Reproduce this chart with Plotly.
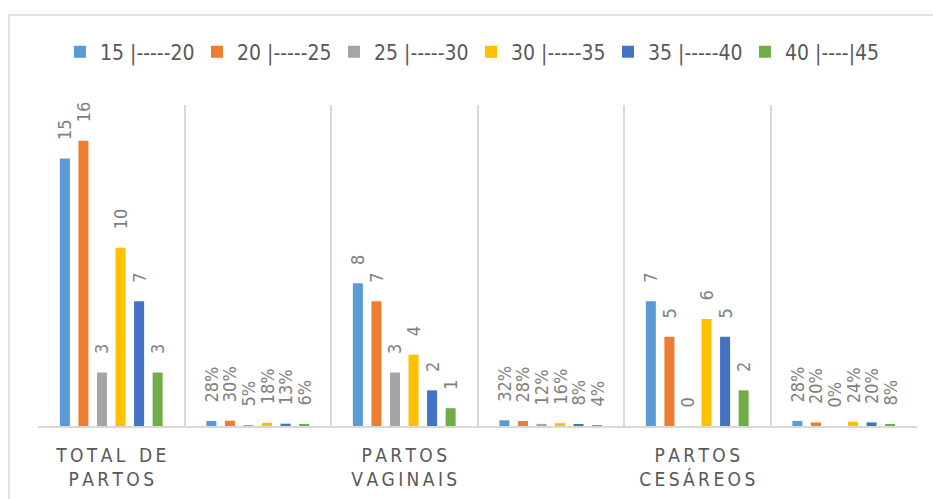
import plotly.graph_objects as go

categories = ["TOTAL DE PARTOS", "TOTAL DE PARTOS (%)",
              "PARTOS VAGINAIS", "PARTOS VAGINAIS (%)",
              "PARTOS CESÁREOS", "PARTOS CESÁREOS (%)"]
tick_labels = ["TOTAL DE<br>PARTOS", "", "PARTOS<br>VAGINAIS", "", "PARTOS<br>CESÁREOS", ""]
is_percent = [False, True, False, True, False, True]

series_names = ["15 |-----20", "20 |-----25", "25 |-----30",
                "30 |-----35", "35 |-----40", "40 |----|45"]
s15_20 = [15, 0.28, 8, 0.32, 7, 0.28]
s20_25 = [16, 0.30, 7, 0.28, 5, 0.20]
s25_30 = [3, 0.05, 3, 0.12, 0, 0.00]
s30_35 = [10, 0.18, 4, 0.16, 6, 0.24]
s35_40 = [7, 0.13, 2, 0.08, 5, 0.20]
s40_45 = [3, 0.06, 1, 0.04, 2, 0.08]
series_values = [s15_20, s20_25, s25_30, s30_35, s35_40, s40_45]
colors = ["#5B9BD5", "#ED7D31", "#A5A5A5", "#FFC000", "#4472C4", "#70AD47"]

FONT = "Liberation Sans Narrow, DejaVu Sans Condensed, Roboto Condensed, Roboto, sans-serif"


def spaced(label):
    lines = label.split("<br>")
    out = []
    for ln in lines:
        out.append("\u2009".join(ch if ch != " " else "\u2009\u2009" for ch in ln))
    return "<br>".join(out)


def fmt(v, pct):
    return f"{round(v * 100)}%" if pct else f"{v:g}"


fig = go.Figure()
for name, vals, col in zip(series_names, series_values, colors):
    fig.add_trace(go.Bar(
        x=categories, y=vals, name=name, marker=dict(color=col, line=dict(width=0)),
        text=["\u00a0\u00a0\u00a0" + fmt(v, p) for v, p in zip(vals, is_percent)],
        textposition="outside", textangle=-90, constraintext="none", cliponaxis=False,
        textfont=dict(color="#7F7F7F", size=18, family=FONT),
        hoverinfo="skip",
    ))

fig.update_layout(
    width=933, height=499,
    barmode="group", bargap=0.24, bargroupgap=0.46,
    paper_bgcolor="white", plot_bgcolor="white",
    margin=dict(l=38, r=16, t=105, b=73, autoexpand=False),
    showlegend=True,
    legend=dict(orientation="h", x=0.025, xanchor="left", y=1.165, yanchor="middle",
                font=dict(color="#595959", size=21, family=FONT),
                entrywidth=92, entrywidthmode="pixels", itemwidth=30, traceorder="normal"),
    xaxis=dict(type="category", categoryorder="array", categoryarray=categories,
               tickmode="array", tickvals=categories, ticktext=[spaced(t) for t in tick_labels],
               tickson="boundaries", ticks="", showgrid=True, gridcolor="#D9D9D9", gridwidth=1.5,
               showline=True, linecolor="#D9D9D9", linewidth=1.5, ticklabelstandoff=11,
               tickfont=dict(color="#595959", size=19, family=FONT), fixedrange=True),
    yaxis=dict(range=[0, 18], visible=False, showgrid=False, zeroline=False, fixedrange=True),
    shapes=[dict(type="rect", xref="paper", yref="paper", x0=-0.033, x1=1.2, y0=-0.5, y1=1.2804,
                 line=dict(color="#D9D9D9", width=1.5), fillcolor="rgba(0,0,0,0)", layer="below")],
)

fig.write_html("out.html", config={"displayModeBar": False},
               post_script="document.body.style.margin='0';document.body.style.overflow='hidden';")
